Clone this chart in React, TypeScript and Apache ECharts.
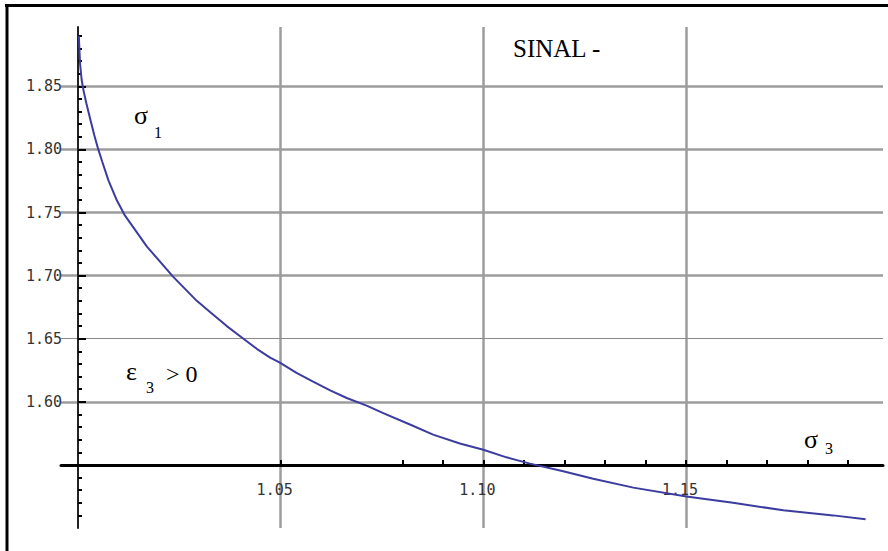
import React, { useEffect, useRef } from "react";
import * as echarts from "echarts";

// Curve σ1 vs σ3
const sigma3 = [1.0002, 1.0005, 1.0009, 1.0014, 1.0021, 1.0031, 1.004, 1.005, 1.006, 1.0075, 1.0096, 1.0116, 1.017, 1.0235, 1.0293, 1.033, 1.0367, 1.04, 1.0441, 1.0474, 1.0498, 1.0539, 1.058, 1.0622, 1.0663, 1.0712, 1.0753, 1.0819, 1.0876, 1.0942, 1.1, 1.1057, 1.1115, 1.1197, 1.1271, 1.137, 1.1501, 1.1616, 1.174, 1.1863, 1.1943];
const sigma1 = [1.89, 1.868, 1.855, 1.846, 1.836, 1.823, 1.8115, 1.8, 1.79, 1.7755, 1.7595, 1.7475, 1.723, 1.699, 1.68, 1.67, 1.66, 1.652, 1.642, 1.635, 1.631, 1.623, 1.616, 1.609, 1.603, 1.597, 1.591, 1.582, 1.574, 1.567, 1.562, 1.556, 1.551, 1.545, 1.539, 1.532, 1.525, 1.52, 1.514, 1.51, 1.507];

// Ticks, labels and grid lines
const xTickValues = [1.05, 1.08, 1.09, 1.1, 1.11, 1.12, 1.13, 1.14, 1.15, 1.16, 1.17, 1.18, 1.19];
const xLabelValues = [1.05, 1.1, 1.15];
const yTickValues = [1.6, 1.65, 1.7, 1.75, 1.8, 1.85];
const yLabelValues = [1.6, 1.65, 1.7, 1.75, 1.8, 1.85];
const xGridValues = [1.05, 1.1, 1.15];
const yGridValues = [1.6, 1.65, 1.7, 1.75, 1.8, 1.85];
const thinGridValue = 1.65;

export default function App() {
  const ref = useRef<HTMLDivElement>(null);
  useEffect(() => {
    if (!ref.current) return;
    const chart = echarts.init(ref.current, undefined, { renderer: "svg" });
    const gridColor = "#9c9c9c";
    const labelStyle = {
      fontFamily: "DejaVu Sans Mono",
      fontSize: 15,
      color: "#333",
    };
    const markData: any[] = [
      ...xGridValues.map((v) => ({ xAxis: v, lineStyle: { color: gridColor, width: 2.5, type: "solid" } })),
      ...yGridValues.map((v) => ({
        yAxis: v,
        lineStyle: v === thinGridValue ? { color: "#8a8a8a", width: 1, type: "solid" } : { color: gridColor, width: 2.5, type: "solid" },
      })),
    ];
    const serif = '"Liberation Serif", "Times New Roman", serif';
    const txt = (x: number, y: number, text: string, size: number) => ({
      type: "text",
      x,
      y,
      style: { text, font: `${size}px ${serif}`, fill: "#000", textAlign: "left", textVerticalAlign: "middle" },
    });
    const option: any = {
      animation: false,
      backgroundColor: "#ffffff",
      grid: { left: 61, right: 5, top: 27, bottom: 23, containLabel: false, outerBoundsMode: "none" },
      xAxis: {
        type: "value",
        min: 0.9958,
        max: 1.1986,
        position: "bottom",
        offset: -63,
        z: 2,
        axisLine: { show: true, onZero: false, lineStyle: { color: "#000", width: 3 } },
        axisTick: { show: true, inside: true, length: 5, customValues: xTickValues, lineStyle: { color: "#000", width: 2 } },
        axisLabel: {
          show: true,
          customValues: xLabelValues,
          formatter: (v: number) => v.toFixed(2),
          margin: 17,
          padding: [0, 12, 0, 0],
          ...labelStyle,
        },
        splitLine: { show: false },
      },
      yAxis: {
        type: "value",
        min: 1.5,
        max: 1.897,
        interval: 0.05,
        position: "left",
        offset: -17,
        z: 2,
        axisLine: { show: true, onZero: false, lineStyle: { color: "#222", width: 2 } },
        axisTick: { show: true, inside: true, length: 8, customValues: yTickValues, lineStyle: { color: "#000", width: 2 } },
        minorTick: { show: true, splitNumber: 5, length: 4, lineStyle: { color: "#000", width: 2 } },
        axisLabel: {
          show: true,
          customValues: yLabelValues,
          formatter: (v: number) => v.toFixed(2),
          margin: 16,
          padding: [0, 0, 5, 0],
          ...labelStyle,
        },
        splitLine: { show: false },
        minorSplitLine: { show: false },
      },
      series: [
        {
          type: "line",
          z: 3,
          data: sigma3.map((x, i) => [x, sigma1[i]]),
          showSymbol: false,
          symbol: "none",
          smooth: false,
          lineStyle: { color: "#3c3ca0", width: 2 },
          markLine: {
            z: 1,
            silent: true,
            symbol: ["none", "none"],
            label: { show: false },
            emphasis: { disabled: true },
            animation: false,
            data: markData,
          },
        },
      ],
      graphic: [
        { type: "line", shape: { x1: 5, y1: 5.5, x2: 888, y2: 5.5 }, style: { stroke: "#000", lineWidth: 3 } },
        { type: "line", shape: { x1: 7, y1: 4, x2: 7, y2: 551 }, style: { stroke: "#000", lineWidth: 3 } },
        txt(513, 48.5, "SINAL -", 25),
        txt(134, 115.2, "σ", 26),
        txt(154, 132.6, "1", 16),
        txt(126, 371.2, "ε", 26),
        txt(146, 387.3, "3", 16),
        txt(166, 373.9, "> 0", 24),
        txt(804, 439.5, "σ", 26),
        txt(825, 448, "3", 16),
      ],
    };
    chart.setOption(option);
    return () => chart.dispose();
  }, []);
  return <div ref={ref} style={{ position: "fixed", left: 0, top: 0, width: 888, height: 551 }} />;
}
